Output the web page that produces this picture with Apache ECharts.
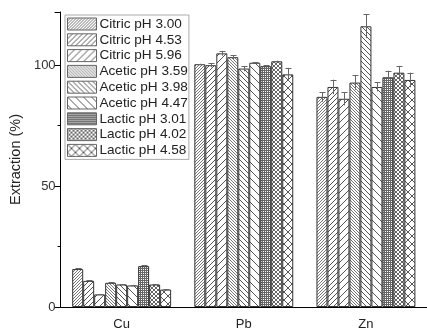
<!DOCTYPE html>
<html><head><meta charset="utf-8">
<script src="https://cdn.jsdelivr.net/npm/echarts@6/dist/echarts.min.js"></script>
<style>html,body{margin:0;padding:0;background:#fff}#c{width:427px;height:331px}</style>
</head><body><div id="c"></div>
<script>
const categories = ['Cu', 'Pb', 'Zn'];
const seriesNames = ['Citric pH 3.00','Citric pH 4.53','Citric pH 5.96','Acetic pH 3.59','Acetic pH 3.98','Acetic pH 4.47','Lactic pH 3.01','Lactic pH 4.02','Lactic pH 4.58'];
const citric300 = [15.7, 100.4, 86.9];
const citric453 = [10.8, 100.0, 91.0];
const citric596 = [5.2, 104.9, 86.1];
const acetic359 = [10.0, 103.3, 92.8];
const acetic398 = [9.3, 98.6, 116.1];
const acetic447 = [8.9, 101.0, 91.0];
const lactic301 = [16.9, 99.6, 95.0];
const lactic402 = [9.3, 101.6, 96.9];
const lactic458 = [7.2, 96.2, 93.9];
const citric300Err = [0.3, 0.2, 2.0];
const citric453Err = [0.3, 0.8, 3.0];
const citric596Err = [0.2, 1.0, 2.7];
const acetic359Err = [0.3, 0.8, 3.0];
const acetic398Err = [0.2, 1.1, 4.9];
const acetic447Err = [0.2, 0.3, 1.9];
const lactic301Err = [0.3, 0.3, 2.7];
const lactic402Err = [0.2, 0.3, 2.8];
const lactic458Err = [0.2, 2.7, 3.0];
const yTicks = [0, 50, 100];

const values = [citric300, citric453, citric596, acetic359, acetic398, acetic447, lactic301, lactic402, lactic458];
const errors = [citric300Err, citric453Err, citric596Err, acetic359Err, acetic398Err, acetic447Err, lactic301Err, lactic402Err, lactic458Err];

function hatch(kind, s, color, lw) {
  const c = document.createElement('canvas');
  c.width = s; c.height = s;
  const g = c.getContext('2d');
  g.fillStyle = '#fff'; g.fillRect(0, 0, s, s);
  g.strokeStyle = color; g.lineWidth = lw;
  g.beginPath();
  if (kind === 'f' || kind === 'x') {
    g.moveTo(-1, s + 1); g.lineTo(s + 1, -1);
    g.moveTo(-1, 1); g.lineTo(1, -1);
    g.moveTo(s - 1, s + 1); g.lineTo(s + 1, s - 1);
  }
  if (kind === 'b' || kind === 'x') {
    g.moveTo(-1, -1); g.lineTo(s + 1, s + 1);
    g.moveTo(s - 1, -1); g.lineTo(s + 1, 1);
    g.moveTo(-1, s - 1); g.lineTo(1, s + 1);
  }
  if (kind === 'g') {
    g.moveTo(0, 0.5); g.lineTo(s, 0.5);
    g.moveTo(0.5, 0); g.lineTo(0.5, s);
  }
  g.stroke();
  return { image: c, repeat: 'repeat' };
}
const patterns = [
  hatch('f', 3, '#777', 1),
  hatch('f', 5, '#555', 1),
  hatch('f', 7, '#555', 1),
  hatch('b', 3, '#777', 1),
  hatch('b', 5, '#555', 1),
  hatch('b', 8, '#555', 1),
  hatch('g', 2, '#666', 1),
  hatch('x', 4, '#666', 1),
  hatch('x', 8, '#555', 1)
];

const chart = echarts.init(document.getElementById('c'), null, {renderer: 'canvas'});
const CAT_GAP = 0.19;
const series = [];
values.forEach((v, i) => {
  series.push({
    name: seriesNames[i], type: 'bar', data: v, barGap: '0%', barCategoryGap: '19%',
    itemStyle: { color: patterns[i], borderColor: '#333', borderWidth: 1 },
    emphasis: { disabled: true }, animation: false
  });
});
const errData = [];
errors.forEach((e, i) => e.forEach((d, k) => errData.push([k, values[i][k] - d, values[i][k] + d, i])));
series.push({
  type: 'custom', name: 'err', data: errData, z: 10, animation: false,
  encode: { x: 0, y: [1, 2] },
  renderItem: function (params, api) {
    const k = api.value(0), lo = api.value(1), hi = api.value(2), i = api.value(3);
    const band = api.size([1, 0])[0];
    const bw = band * (1 - CAT_GAP) / 9;
    const pLo = api.coord([k, lo]);
    const pHi = api.coord([k, hi]);
    const x = Math.round(pLo[0] + (i - 4) * bw) + 0.5;
    const cap = 3;
    const style = { stroke: '#666', lineWidth: 1, fill: null };
    return { type: 'group', children: [
      { type: 'line', shape: { x1: x, y1: pLo[1], x2: x, y2: pHi[1] }, style: style },
      { type: 'line', shape: { x1: x - cap, y1: Math.round(pHi[1]) + 0.5, x2: x + cap, y2: Math.round(pHi[1]) + 0.5 }, style: style }
    ]};
  }
});

chart.setOption({
  animation: false,
  textStyle: { fontFamily: 'Liberation Sans, Arial, sans-serif' },
  grid: { left: 60, top: 12, width: 374, height: 300, containLabel: false },
  legend: {
    data: seriesNames, orient: 'vertical', left: 65, top: 15,
    itemWidth: 29, itemHeight: 12, itemGap: 1.8, icon: 'rect',
    padding: [2, 1, 2, 2], borderColor: '#aaa', borderWidth: 1,
    itemStyle: { borderColor: '#666', borderWidth: 1 },
    textStyle: { fontSize: 13.6, lineHeight: 13, color: '#222', padding: [0, 0, 0, -2] },
    selectedMode: false
  },
  xAxis: [{
    type: 'category', data: categories,
    axisLine: { lineStyle: { color: '#000', width: 1 } },
    axisTick: { alignWithLabel: true, length: 5, lineStyle: { color: '#000' } },
    axisLabel: { fontSize: 13, color: '#222', margin: 11 }
  }, {
    type: 'category', data: categories, position: 'bottom',
    axisLine: { show: false },
    axisTick: { length: 3, lineStyle: { color: '#000' } },
    axisLabel: { show: false }
  }],
  yAxis: {
    type: 'value', min: 0, max: 122, interval: 50,
    name: 'Extraction (%)', nameLocation: 'middle', nameGap: 37,
    nameTextStyle: { fontSize: 14.5, color: '#222' },
    axisLine: { show: true, lineStyle: { color: '#000', width: 1 } },
    axisTick: { show: true, length: 6, lineStyle: { color: '#000' } },
    minorTick: { show: true, splitNumber: 2, length: 3, lineStyle: { color: '#000' } },
    splitLine: { show: false },
    axisLabel: { fontSize: 13, color: '#333', margin: 5,
      formatter: v => yTicks.indexOf(v) >= 0 ? String(v) : '' }
  },
  series: series
});
</script></body></html>
